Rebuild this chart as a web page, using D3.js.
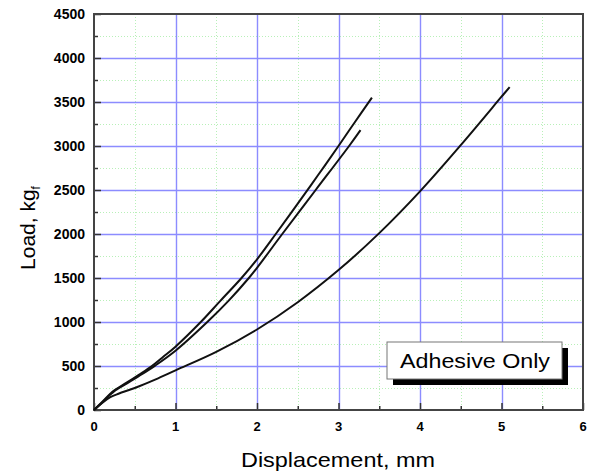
<!DOCTYPE html>
<html>
<head>
<meta charset="utf-8">
<script src="https://cdn.jsdelivr.net/npm/d3@7"></script>
<style>
  body { margin: 0; background: #fff; }
  svg { display: block; font-family: Arial, "Liberation Sans", sans-serif; }
</style>
</head>
<body>
<svg id="chart" width="592" height="476"></svg>
<script>
// Load–displacement curves (displacement mm, load kgf)
const curveA = [[0,0],[0.1,90],[0.2,185],[0.25,225],[0.4,310],[0.55,400],[0.71,500],[0.85,605],[1.0,720],[1.31,1000],[1.55,1240],[1.81,1500],[2.0,1712],[2.23,2000],[2.5,2345],[2.75,2670],[3.0,3000],[3.2,3270],[3.41,3549]];
const curveB = [[0,0],[0.1,85],[0.2,175],[0.25,215],[0.4,300],[0.55,385],[0.75,505],[1.0,674],[1.39,1000],[1.65,1240],[1.9,1500],[2.0,1615],[2.31,2000],[2.72,2500],[3.13,3000],[3.27,3180]];
const curveC = [[0,0],[0.1,80],[0.2,145],[0.3,185],[0.5,250],[0.75,345],[1.0,450],[1.5,660],[2.0,915],[2.5,1225],[3.0,1590],[3.5,2010],[4.0,2485],[4.5,3010],[5.0,3560],[5.1,3670]];
const series = [curveA, curveB, curveC];

const xTicks = [0, 1, 2, 3, 4, 5, 6];
const yTicks = [0, 500, 1000, 1500, 2000, 2500, 3000, 3500, 4000, 4500];
const legendLabel = 'Adhesive Only';

const svg = d3.select('#chart');
const m = { left: 94, right: 583, top: 14, bottom: 410 };

const x = d3.scaleLinear().domain([0, 6]).range([m.left, m.right]);
const y = d3.scaleLinear().domain([0, 4500]).range([m.bottom, m.top]);
const px = v => Math.round(v) + 0.5;

// minor grid (dotted green)
const minorX = d3.range(0.5, 6, 1);
const minorY = d3.range(250, 4500, 500);
svg.append('g').selectAll('line').data(minorX).join('line')
    .attr('x1', d => px(x(d))).attr('x2', d => px(x(d)))
    .attr('y1', m.top).attr('y2', m.bottom)
    .attr('stroke', '#b8f0b8').attr('stroke-dasharray', '1,2');
svg.append('g').selectAll('line').data(minorY).join('line')
    .attr('x1', m.left).attr('x2', m.right)
    .attr('y1', d => px(y(d))).attr('y2', d => px(y(d)))
    .attr('stroke', '#b8f0b8').attr('stroke-dasharray', '1,2');

// major grid (blue)
svg.append('g').selectAll('line').data(xTicks.slice(1, -1)).join('line')
    .attr('x1', d => px(x(d))).attr('x2', d => px(x(d)))
    .attr('y1', m.top).attr('y2', m.bottom)
    .attr('stroke', '#8c8cff').attr('stroke-width', 1.4);
svg.append('g').selectAll('line').data(yTicks.slice(1, -1)).join('line')
    .attr('x1', m.left).attr('x2', m.right)
    .attr('y1', d => px(y(d))).attr('y2', d => px(y(d)))
    .attr('stroke', '#8c8cff').attr('stroke-width', 1.4);

// axes with inward ticks
const xAxis = d3.axisTop(x).tickValues(xTicks).tickSize(7).tickFormat('');
const xMinor = d3.axisTop(x).tickValues(minorX).tickSize(4).tickFormat('');
const yAxis = d3.axisRight(y).tickValues(yTicks).tickSize(7).tickFormat('');
const yMinor = d3.axisRight(y).tickValues(minorY).tickSize(4).tickFormat('');
[[xAxis, `translate(0,${m.bottom})`], [xMinor, `translate(0,${m.bottom})`],
 [yAxis, `translate(${m.left},0)`], [yMinor, `translate(${m.left},0)`]].forEach(([ax, t]) => {
    const g = svg.append('g').attr('transform', t).call(ax);
    g.select('.domain').remove();
    g.selectAll('line').attr('stroke', '#333').attr('stroke-width', 1.5);
});

// frame
svg.append('rect')
    .attr('x', m.left).attr('y', m.top)
    .attr('width', m.right - m.left).attr('height', m.bottom - m.top)
    .attr('fill', 'none').attr('stroke', '#444').attr('stroke-width', 2);

// tick labels
svg.append('g').selectAll('text').data(xTicks).join('text')
    .attr('x', d => x(d)).attr('y', 431)
    .attr('text-anchor', 'middle')
    .attr('font-size', 13).attr('font-weight', 'bold')
    .text(d => d);
svg.append('g').selectAll('text').data(yTicks).join('text')
    .attr('x', 85).attr('y', d => y(d) + 5)
    .attr('text-anchor', 'end')
    .attr('font-size', 14).attr('font-weight', 'bold')
    .text(d => d);

// curves
const line = d3.line().x(d => x(d[0])).y(d => y(d[1])).curve(d3.curveCatmullRom.alpha(0.5));
svg.append('g').selectAll('path').data(series).join('path')
    .attr('d', line)
    .attr('fill', 'none').attr('stroke', '#111').attr('stroke-width', 2);

// axis titles
svg.append('text')
    .attr('x', 338).attr('y', 467)
    .attr('text-anchor', 'middle').attr('font-size', 21)
    .attr('textLength', 194).attr('lengthAdjust', 'spacingAndGlyphs')
    .text('Displacement, mm');
const yt = svg.append('text')
    .attr('transform', 'translate(35,228) rotate(-90)')
    .attr('text-anchor', 'middle').attr('font-size', 21);
yt.append('tspan').text('Load, kg');
yt.append('tspan').attr('font-size', 12).attr('dy', 5).text('f');

// legend box with shadow
svg.append('rect')
    .attr('x', 393).attr('y', 348).attr('width', 175).attr('height', 37)
    .attr('fill', '#000');
svg.append('rect')
    .attr('x', 387).attr('y', 342).attr('width', 175).attr('height', 37)
    .attr('fill', '#fff').attr('stroke', '#777').attr('stroke-width', 1);
svg.append('text')
    .attr('x', 475).attr('y', 368)
    .attr('text-anchor', 'middle').attr('font-size', 21)
    .attr('textLength', 150).attr('lengthAdjust', 'spacingAndGlyphs')
    .text(legendLabel);
</script>
</body>
</html>
